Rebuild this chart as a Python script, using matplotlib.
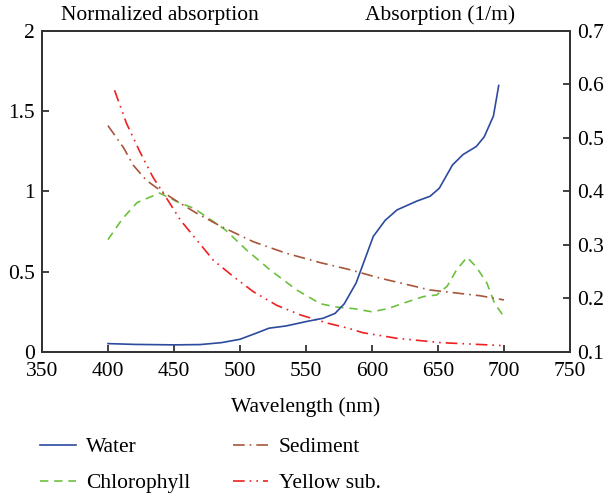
import matplotlib.pyplot as plt
from matplotlib.lines import Line2D

plt.rcParams['font.family'] = ['Liberation Serif', 'DejaVu Serif']

# values
water_nm = [400, 420, 450, 470, 486, 500, 512, 522, 535, 550, 563, 572, 579, 588,
            601, 610, 619, 634, 644, 651, 661, 669, 679, 685, 692, 696]
water_abs = [0.1156, 0.1141, 0.1132, 0.1138, 0.1174, 0.1237, 0.1348, 0.1444, 0.1486,
             0.1567, 0.163, 0.172, 0.19, 0.229, 0.316, 0.346, 0.3655, 0.382, 0.391,
             0.406, 0.4495, 0.469, 0.484, 0.502, 0.541, 0.598]

chl_nm = [400, 411, 422, 439, 454, 465, 475, 489, 505, 523, 543, 561, 573, 586,
          600, 612, 626, 639, 649, 657, 664, 672, 679, 687, 693, 700]
chl_norm = [0.70, 0.83, 0.93, 0.99, 0.93, 0.895, 0.84, 0.76, 0.635, 0.51, 0.386, 0.30,
            0.28, 0.27, 0.25, 0.27, 0.31, 0.345, 0.355, 0.41, 0.51, 0.59, 0.53, 0.43,
            0.30, 0.22]

sed_nm = [400, 412, 419, 429, 439, 452, 467, 485, 510, 535, 561, 582, 606, 644, 682, 700]
sed_norm = [1.41, 1.27, 1.165, 1.07, 1.01, 0.94, 0.865, 0.785, 0.687, 0.615, 0.556,
            0.515, 0.46, 0.386, 0.35, 0.324]

ys_nm = [405, 414, 424, 434, 445, 455, 467, 480, 495, 510, 528, 546, 566, 582, 593,
         619, 652, 698]
ys_norm = [1.63, 1.425, 1.25, 1.09, 0.95, 0.82, 0.70, 0.57, 0.47, 0.376, 0.29, 0.23,
           0.18, 0.148, 0.12, 0.085, 0.058, 0.04]

fig = plt.figure(figsize=(6.08, 4.95), dpi=100)
ax = fig.add_axes([0.069, 0.289, 0.8685, 0.6485])
ax2 = ax.twinx()

c_water = '#2c4a9e'
c_chl = '#6cc040'
c_sed = '#a8553a'
c_ys = '#f02020'
fs = 15.5

ax2.plot(water_nm, water_abs, color=c_water, linewidth=1.2)
ax.plot(chl_nm, chl_norm, color=c_chl, linewidth=1.2, dashes=(5, 3.5))
ax.plot(sed_nm, sed_norm, color=c_sed, linewidth=1.2, dashes=(7, 3, 1, 3))
ax.plot(ys_nm, ys_norm, color=c_ys, linewidth=1.2, dashes=(7, 3, 1, 3, 1, 3))

ax.set_xlim(350, 750)
ax.set_ylim(0, 2)
ax2.set_ylim(0.1, 0.7)
ax.set_xticks([350, 400, 450, 500, 550, 600, 650, 700, 750])
ax.set_yticks([0, 0.5, 1, 1.5, 2])
ax.set_yticklabels(['0', '0.5', '1', '1.5', '2'])
ax2.set_yticks([0.1, 0.2, 0.3, 0.4, 0.5, 0.6, 0.7])
ax2.set_yticklabels(['0.1', '0.2', '0.3', '0.4', '0.5', '0.6', '0.7'])

for a in (ax, ax2):
    a.tick_params(direction='in', length=5, width=1.3, labelsize=fs, color='#333333')
    for s in a.spines.values():
        s.set_linewidth(1.3)
        s.set_color('#333333')
ax.tick_params(axis='x', pad=7)
ax.tick_params(axis='y', pad=5)
ax2.tick_params(axis='y', pad=5)

ax.set_xlabel('Wavelength (nm)', fontsize=fs, labelpad=12)
ax.text(0.2235, 1.02, 'Normalized absorption', transform=ax.transAxes,
        fontsize=fs, ha='center', va='bottom')
ax.text(0.754, 1.02, 'Absorption (1/m)', transform=ax.transAxes,
        fontsize=fs, ha='center', va='bottom')

handles = [
    Line2D([], [], color=c_water, linewidth=1.2),
    Line2D([], [], color=c_chl, linewidth=1.2, dashes=(5, 3.5)),
    Line2D([], [], color=c_sed, linewidth=1.2, dashes=(7, 3, 1, 3)),
    Line2D([], [], color=c_ys, linewidth=1.2, dashes=(7, 3, 1, 3, 1, 3)),
]
labels = ['Water', 'Chlorophyll', 'Sediment', 'Yellow sub.']
fig.legend(handles, labels, ncol=2, loc='upper left', bbox_to_anchor=(0.066, 0.117),
           frameon=False, fontsize=fs, handlelength=1.65, handletextpad=0.5,
           columnspacing=1.95, labelspacing=0.75, borderpad=0, borderaxespad=0)

fig.savefig('out.png', dpi=100)
